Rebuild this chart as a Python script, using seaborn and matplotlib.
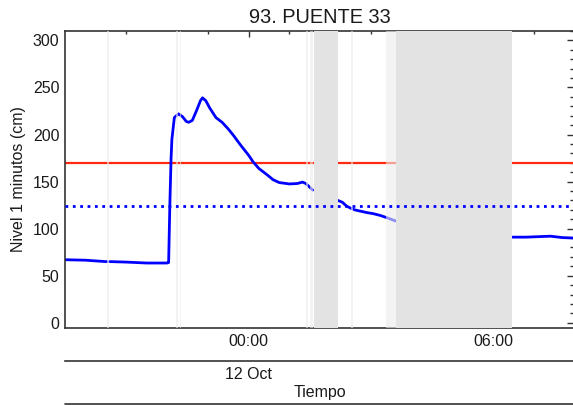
import pandas as pd
import seaborn as sns
import matplotlib.pyplot as plt
import matplotlib.dates as mdates
from matplotlib.lines import Line2D

# hours relative to 12 Oct 00:00, water level in cm (segments split at gaps)
hours = [-4.49, -4.0, -3.5, -3.46, -3.40, -3.0, -2.5, -2.0, -1.96, -1.93, -1.90,
         -1.88, -1.82, -1.72, -1.62, -1.53, -1.47, -1.38, -1.28, -1.18, -1.13,
         -1.05, -0.95, -0.80, -0.65, -0.50, -0.37, -0.20, 0.0, 0.11, 0.25, 0.46,
         0.60, 0.75, 1.0, 1.2, 1.32, 1.40, 1.50, 1.57,
         2.19, 2.30, 2.40, 2.49, 2.60, 2.75, 2.91, 3.05, 3.23, 3.40, 3.55, 3.62,
         6.47, 6.80, 7.10, 7.40, 7.70, 8.0]
nivel = [67, 66.5, 65, 65, 65, 64.5, 63.5, 63.5, 64, 126, 175,
         195, 218, 222, 219, 214, 213, 215, 225, 236, 239,
         236, 228, 218, 213, 206, 199, 189, 178, 171, 164, 157,
         152, 149, 147.5, 148, 149.5, 148, 144, 141,
         130, 128, 124, 122, 120, 118.5, 117, 116, 114, 111.5, 109, 108,
         91, 91, 91.5, 92, 90.5, 90]
segmento = [0, 0, 0, 0, 1, 1, 1, 1, 1, 1, 1,
            1, 1, 1, 1, 1, 1, 1, 1, 1, 1,
            1, 1, 1, 1, 1, 1, 1, 1, 1, 1, 1,
            1, 1, 1, 1, 1, 1, 1, 1,
            2, 2, 2, 2, 2, 2, 2, 2, 2, 2, 2, 2,
            3, 3, 3, 3, 3, 3]

umbral_rojo = 170
umbral_azul = 124

# data gaps (hours), wide ones darker
gaps_anchos = [(1.60, 2.18), (3.62, 6.46)]
gaps_finos = [(-3.47, -3.41), (-1.77, -1.73), (-1.69, -1.65), (1.40, 1.46),
              (1.51, 1.59), (2.52, 2.56), (3.37, 3.62)]

base = pd.Timestamp('2023-10-12')
df = pd.DataFrame({'tiempo': base + pd.to_timedelta(hours, unit='h'),
                   'nivel': nivel, 'seg': segmento})

sns.set_style('white')
plt.rcParams['font.family'] = ['Liberation Sans', 'DejaVu Sans']
plt.rcParams['font.size'] = 11.5
plt.rcParams['text.color'] = '#1a1a1a'
plt.rcParams['axes.labelcolor'] = '#1a1a1a'
plt.rcParams['xtick.labelcolor'] = '#1a1a1a'
plt.rcParams['ytick.labelcolor'] = '#1a1a1a'

fig = plt.figure(figsize=(5.73, 4.05), dpi=100)
ax = fig.add_axes([65 / 573, 77.5 / 405, 510 / 573, 296.5 / 405])

t0 = base + pd.Timedelta(hours=-4.5)
t1 = base + pd.Timedelta(hours=8)

ax.axhline(umbral_rojo, color='#ff2a10', lw=1.6, zorder=1)
sns.lineplot(data=df, x='tiempo', y='nivel', units='seg', estimator=None,
             color='#0000ff', lw=2.0, ax=ax, zorder=2)
for a, b in gaps_anchos:
    ax.axvspan(base + pd.Timedelta(hours=a), base + pd.Timedelta(hours=b),
               color='#e3e3e3', lw=0, zorder=3)
for a, b in gaps_finos:
    ax.axvspan(base + pd.Timedelta(hours=a), base + pd.Timedelta(hours=b),
               color='#ececec', alpha=0.6, lw=0, zorder=3)
ax.axhline(umbral_azul, color='#0000ff', lw=2.0, ls=':', zorder=4)

ax.set_xlim(t0, t1)
ax.set_ylim(-5, 310)
ax.set_yticks([0, 50, 100, 150, 200, 250, 300])
ax.yaxis.set_minor_locator(plt.MultipleLocator(10))
ax.xaxis.set_major_locator(mdates.HourLocator(byhour=[0, 6]))
ax.xaxis.set_minor_locator(mdates.HourLocator(interval=2))
ax.xaxis.set_major_formatter(mdates.DateFormatter('%H:%M'))
ax.tick_params(which='both', direction='in', top=True, right=True,
               color='#333333', width=1.0, labelsize=11.5)
ax.tick_params(axis='y', which='major', length=6, pad=4)
ax.tick_params(axis='y', which='minor', length=3.5)
ax.tick_params(axis='x', which='major', length=4.5, pad=4.5)
ax.tick_params(axis='x', which='minor', length=2.5)
for s in ax.spines.values():
    s.set_color('#333333')
    s.set_linewidth(1.2)
ax.set_xlabel('')
ax.set_ylabel('Nivel 1 minutos (cm)', fontsize=11.5, labelpad=5)
ax.set_title('93. PUENTE 33', fontsize=14.4, pad=5.5)

# second level of the time axis: date + axis title
ax2 = fig.add_axes([65 / 573, 44 / 405, 510 / 573, 0.0001])
ax2.patch.set_visible(False)
for k in ['top', 'left', 'right']:
    ax2.spines[k].set_visible(False)
ax2.spines['bottom'].set_color('#333333')
ax2.spines['bottom'].set_linewidth(1.2)
ax2.set_xlim(t0, t1)
ax2.set_yticks([])
ax2.xaxis.set_major_locator(mdates.DayLocator())
ax2.xaxis.set_major_formatter(mdates.DateFormatter('%d %b'))
ax2.tick_params(axis='x', direction='in', length=4.5, width=1.0,
                color='#333333', pad=4.5, labelsize=11.5)
ax2.set_xlabel('Tiempo', fontsize=11.5, labelpad=2)

fig.add_artist(Line2D([65 / 573, 1.0], [1.5 / 405, 1.5 / 405],
                      transform=fig.transFigure, color='#333333', lw=1.2))

fig.savefig('out.png', dpi=100)
